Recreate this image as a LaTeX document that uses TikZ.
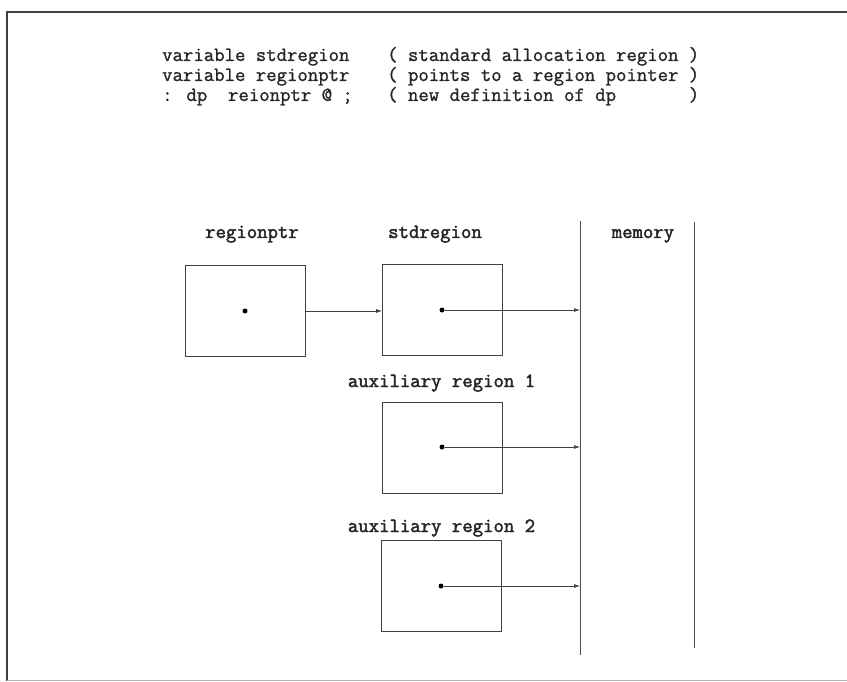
\documentclass[tikz,border=0pt]{standalone}
\usepackage{fontspec}
\newfontfamily\codefont{Latin Modern Mono}[FakeBold=1.2]
\newfontfamily\labelfont{Latin Modern Mono}[FakeBold=2.2]
\usetikzlibrary{arrows.meta}
\tikzset{
  code/.style={font=\codefont\bfseries\fontsize{20.2}{22}\selectfont, inner sep=0pt, anchor=base west, text=black!85},
  lbl/.style={font=\labelfont\bfseries\fontsize{20.2}{22}\selectfont, inner sep=0pt, anchor=base, text=black!85},
  region/.style={draw=black!75, line width=0.9pt, minimum width=120pt, minimum height=91pt, inner sep=0pt},
  ptr/.style={-{Latex[length=6pt,width=4pt]}, draw=black!75, line width=0.7pt},
  dot/.style={circle, fill=black, inner sep=0pt, minimum size=5pt},
  memline/.style={draw=black!70, line width=1pt}
}
\begin{document}
\begin{tikzpicture}[x=1pt,y=-1pt]
\useasboundingbox (0,0) rectangle (847,682);
% page frame
\draw[black!75, line width=2pt] (6,12) -- (847,12);
\draw[black!75, line width=2pt] (7,12) -- (7,681);
\draw[black!30, line width=1pt] (7,680) -- (847,680);

% source lines
\node[code] (c1) at (162,61) {variable stdregion};
\node[code] (c2) at (162,81) {variable regionptr};
\node[code] (c3) at (162,101) {: dp\hphantom{x}\hphantom{x}reionptr @ ;};
\node[code] (k1) at (387,61) {( standard allocation region )};
\node[code] (k2) at (387,81) {( points to a region pointer )};
\node[code] (k3) at (387,101) {( new definition of dp\hphantom{xxxxxxx})};

% memory column
\coordinate (mtop) at (580,221);
\coordinate (mbot) at (580,655);
\draw[memline] (mtop) -- (mbot);
\coordinate (rtop) at (694,222);
\coordinate (rbot) at (694,648);
\draw[memline] (rtop) -- (rbot);
\node[lbl] (memlbl) at (643,238) {memory};

% regionptr
\node[lbl] (lrp) at (252,238) {regionptr};
\node[region] (rp) at (245,311) {};
\node[dot] (drp) at (245,311) {};

% stdregion
\node[lbl] (lsr) at (435,238) {stdregion};
\node[region] (sr) at (442.5,309.5) {};
\node[dot] (dsr) at (442,310) {};

% auxiliary region 1
\node[lbl] (la1) at (441.5,387) {auxiliary region 1};
\node[region] (a1) at (442,447.5) {};
\node[dot] (da1) at (442,447) {};

% auxiliary region 2
\node[lbl] (la2) at (441.5,532) {auxiliary region 2};
\node[region] (a2) at (441,585.5) {};
\node[dot] (da2) at (441,586) {};

% pointers
\draw[ptr] (rp.east |- drp) -- (sr.west |- drp);
\draw[ptr] (dsr) -- (dsr -| mtop);
\draw[ptr] (da1) -- (da1 -| mtop);
\draw[ptr] (da2) -- (da2 -| mtop);
\end{tikzpicture}
\end{document}
